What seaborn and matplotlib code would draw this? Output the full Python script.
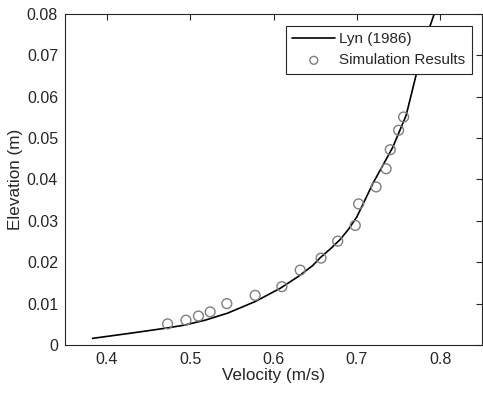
import matplotlib
matplotlib.use("Agg")
import matplotlib.pyplot as plt
import seaborn as sns
import pandas as pd

# Lyn (1986) profile
lyn_velocity = [0.383, 0.434, 0.472, 0.493, 0.518, 0.545, 0.578, 0.608, 0.630, 0.647, 0.656, 0.668,
                0.680, 0.690, 0.700, 0.710, 0.720, 0.730, 0.743, 0.759, 0.771, 0.783, 0.793, 0.800]
lyn_elevation = [0.0016, 0.0030, 0.0041, 0.0048, 0.0060, 0.0077, 0.0105, 0.0137, 0.0166, 0.0192, 0.0211, 0.0232,
                 0.0255, 0.0280, 0.0310, 0.0352, 0.0394, 0.0430, 0.0478, 0.0555, 0.0653, 0.0744, 0.0802, 0.0850]

# Simulation results
sim_velocity = [0.473, 0.495, 0.510, 0.524, 0.544, 0.578, 0.610, 0.632, 0.657, 0.677,
                0.698, 0.702, 0.723, 0.735, 0.740, 0.750, 0.756]
sim_elevation = [0.0051, 0.0060, 0.0070, 0.0080, 0.0100, 0.0120, 0.0141, 0.0181, 0.0210, 0.0251,
                 0.0289, 0.0341, 0.0382, 0.0426, 0.0472, 0.0519, 0.0551]

x_ticks = [0.4, 0.5, 0.6, 0.7, 0.8]
y_ticks = [0, 0.01, 0.02, 0.03, 0.04, 0.05, 0.06, 0.07, 0.08]
y_tick_labels = ["0", "0.01", "0.02", "0.03", "0.04", "0.05", "0.06", "0.07", "0.08"]

sns.set_style("white")
plt.rcParams['font.family'] = ['Liberation Sans', 'DejaVu Sans']

lyn = pd.DataFrame({"Velocity": lyn_velocity, "Elevation": lyn_elevation})
sim = pd.DataFrame({"Velocity": sim_velocity, "Elevation": sim_elevation})

fig = plt.figure(figsize=(4.83, 3.95), dpi=100)
ax = fig.add_axes([0.1346, 0.1266, 0.8634, 0.838])

sns.lineplot(data=lyn, x="Velocity", y="Elevation", ax=ax, color="black", linewidth=1.2,
             sort=False, label="Lyn (1986)", estimator=None)
sns.scatterplot(data=sim, x="Velocity", y="Elevation", ax=ax, marker="o", s=50,
                facecolors="none", edgecolor="#7f7f7f", linewidth=1.0,
                label="Simulation Results", zorder=3)

ax.set_xlim(0.35, 0.85)
ax.set_ylim(0, 0.08)
ax.set_xticks(x_ticks)
ax.set_yticks(y_ticks)
ax.set_yticklabels(y_tick_labels)
ax.tick_params(direction="in", length=4, width=0.8, colors="#262626", labelsize=11.5,
               top=True, right=True, labelcolor="#262626", pad=5)
for s in ax.spines.values():
    s.set_color("#262626")
    s.set_linewidth(0.8)
    s.set_visible(True)
ax.set_xlabel("Velocity (m/s)", fontsize=12.3, color="#262626", labelpad=1)
ax.set_ylabel("Elevation (m)", fontsize=12.3, color="#262626", labelpad=3)

leg = ax.legend(loc="upper right", bbox_to_anchor=(0.976, 0.965), fontsize=11, frameon=True,
                fancybox=False, edgecolor="#262626", framealpha=1, borderpad=0.45,
                handlelength=2.8, handletextpad=0.25, labelspacing=0.45, borderaxespad=0,
                markerscale=0.8)
leg.get_frame().set_linewidth(0.8)

fig.savefig("out.png", dpi=100)
